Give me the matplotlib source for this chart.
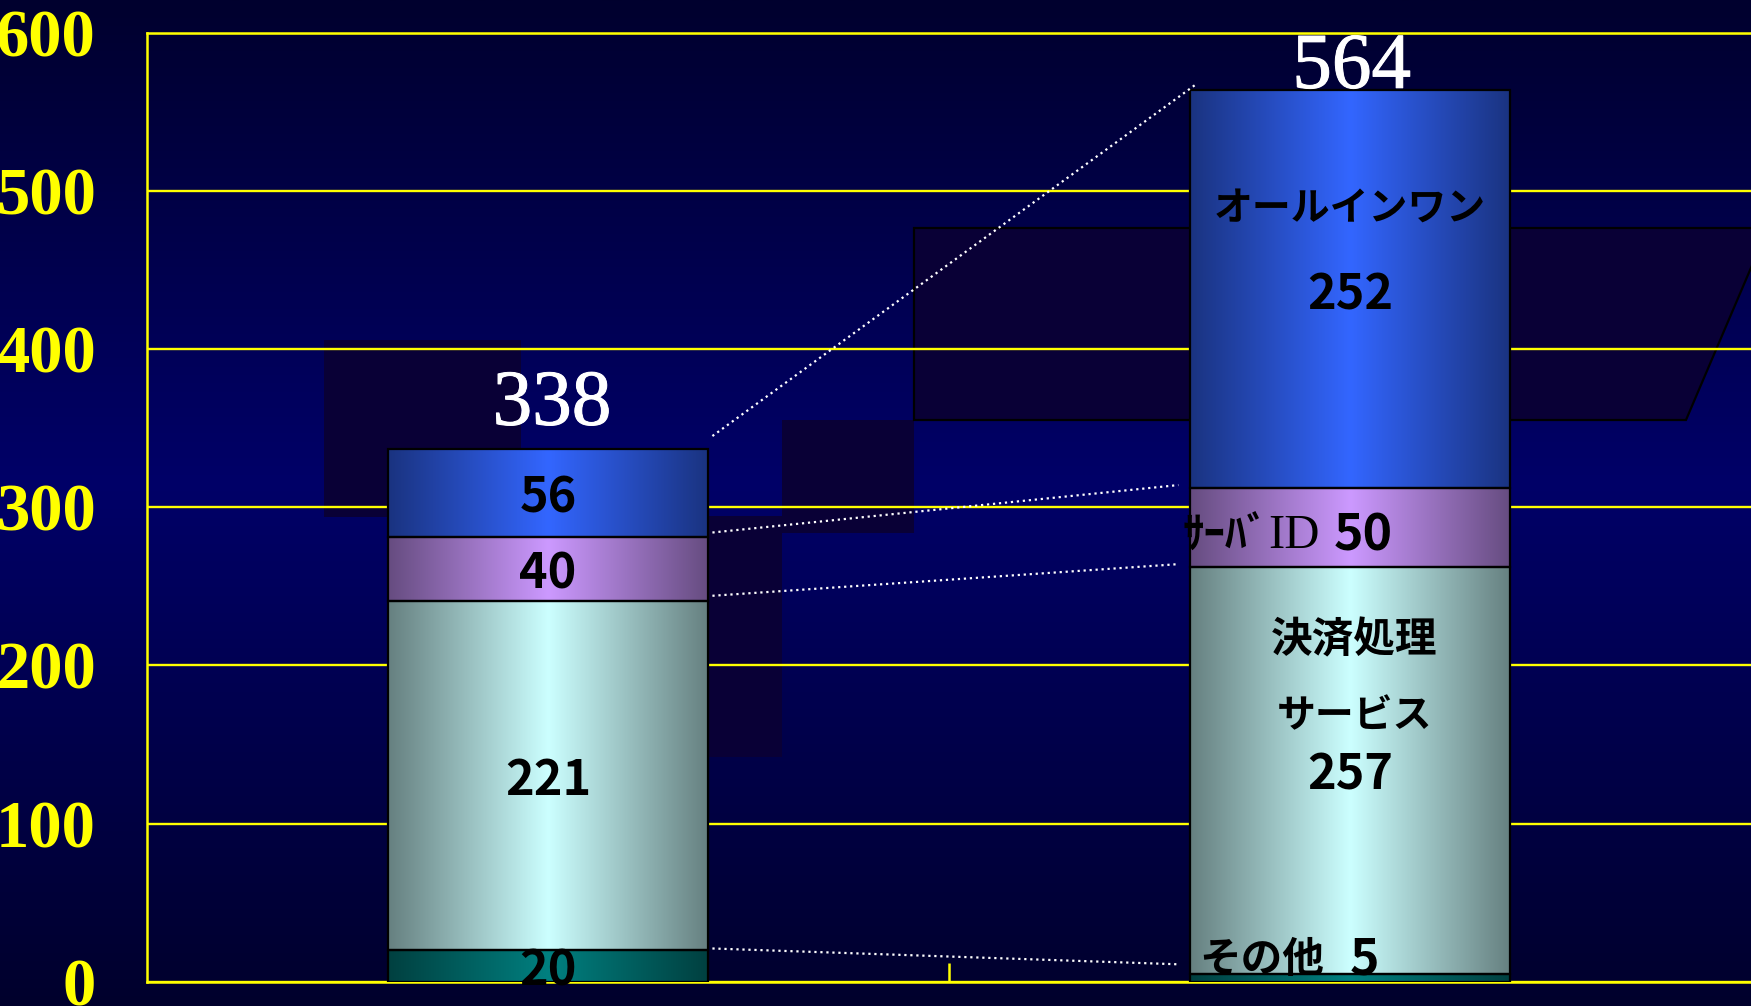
import matplotlib
matplotlib.use("Agg")
import matplotlib.pyplot as plt
import matplotlib.patheffects as pe
import numpy as np
from matplotlib.patches import Polygon
from matplotlib.colors import to_rgb

# ---------------- data ----------------
categories = [0, 1]
segment_names = ["その他", "決済処理サービス", "サーバID", "オールインワン"]
values_left = [20, 221, 40, 56]
values_right = [5, 257, 50, 252]
totals = [338, 564]
ytick_values = [0, 100, 200, 300, 400, 500, 600]
ytick_labels = ["0", "100", "200", "300", "400", "500", "600"]

# connector (dotted) lines: value heights at left / right ends
conn_left_y = [345, 284, 244, 21]
conn_right_y = [567, 314, 264, 11]
conn_right_x = [0.807, 0.786, 0.786, 0.786]
conn_left_x = 0.205

# ---------------- styles ----------------
seg_center = ["#008080", "#CCFFFF", "#CC99FF", "#3366FF"]
seg_edge = ["#004040", "#668080", "#664C80", "#1A3380"]
JP = ["Noto Sans CJK JP", "DejaVu Sans"]
YEL = "#FFFF00"
DY = -3.0  # small vertical nudge for CJK-font labels

W, H = 1751, 1006
fig = plt.figure(figsize=(W / 100, H / 100), dpi=100)

# background gradient + decorative dark shapes (pixel coordinates)
bg = fig.add_axes([0, 0, 1, 1])
bg.set_xlim(0, W)
bg.set_ylim(H, 0)
bg.axis("off")
yy = np.linspace(0, 1, 400)
top = np.array(to_rgb("#00002E"))
mid = np.array(to_rgb("#000068"))
bot = np.array(to_rgb("#00002C"))
grad = np.zeros((400, 1, 3))
for i, t in enumerate(yy):
    if t < 0.48:
        f = t / 0.48
        grad[i, 0] = top + (mid - top) * f
    else:
        f = (t - 0.48) / 0.52
        grad[i, 0] = mid + (bot - mid) * f
bg.imshow(grad, extent=[0, W, H, 0], aspect="auto", zorder=0)

dark = "#090036"
shapes = [
    [(324, 340), (521, 340), (521, 517), (324, 517)],
    [(782, 420), (914, 420), (914, 533), (782, 533)],
    [(640, 516), (782, 516), (782, 757), (640, 757)],
]
for s in shapes:
    bg.add_patch(Polygon(s, closed=True, facecolor=dark, edgecolor="none", zorder=1))
bg.add_patch(Polygon([(914, 228), (1768, 228), (1686, 420), (914, 420)], closed=True,
                     facecolor=dark, edgecolor="black", lw=1.6, zorder=1))

# ---------------- main axes ----------------
ax = fig.add_axes([147 / W, 1 - 981.7 / H, (W - 147) / W, (981.7 - 32.7) / H])
ax.patch.set_alpha(0)
ax.set_axisbelow(True)
ax.yaxis.grid(True, color=YEL, lw=1.7)
ax.xaxis.grid(False)
for sp in ["left", "bottom", "top"]:
    ax.spines[sp].set_color(YEL)
    ax.spines[sp].set_linewidth(1.8)
ax.spines["right"].set_visible(False)

ax.set_yticks(ytick_values)
ax.set_yticklabels(ytick_labels, fontsize=48, fontfamily="Liberation Serif",
                   fontweight="bold", color=YEL)
ax.tick_params(axis="y", length=0, pad=37)
ax.set_xticks([0.5])
ax.set_xticklabels([])
ax.tick_params(axis="x", direction="in", length=14, width=1.8, color=YEL)

t = np.linspace(0, 1, 256)
w = 1 - np.abs(2 * t - 1)

bar_width = 0.4
for xi, vals in zip(categories, [values_left, values_right]):
    bottom = 0
    for k, v in enumerate(vals):
        bars = ax.bar(xi, v, bar_width, bottom=bottom, facecolor="none",
                      edgecolor="black", lw=1.6, zorder=4)
        patch = bars[0]
        c0 = np.array(to_rgb(seg_edge[k]))
        c1 = np.array(to_rgb(seg_center[k]))
        img = c0[None, :] + (c1 - c0)[None, :] * w[:, None]
        img = img[None, :, :]
        im = ax.imshow(img, extent=[xi - bar_width / 2, xi + bar_width / 2, bottom, bottom + v],
                       aspect="auto", zorder=3, interpolation="bilinear")
        im.set_clip_path(patch)
        bottom += v

# dotted connectors
for yl, yr, xr in zip(conn_left_y, conn_right_y, conn_right_x):
    ax.plot([conn_left_x, xr], [yl, yr], color="white", lw=1.6,
            ls=(0, (1, 1.7)), zorder=6)

# total labels
total_label_y = [364, 577]
total_label_x = [0.005, 1.002]
for x, y, tot in zip(total_label_x, total_label_y, totals):
    ax.text(x, y, str(tot), fontsize=57, fontfamily="Liberation Serif", color="white",
            ha="center", va="center", zorder=7, clip_on=False,
            path_effects=[pe.withStroke(linewidth=0.7, foreground="white")])

# left bar labels (segment centres)
bottom = 0
for v in values_left:
    ax.text(0, bottom + v / 2 + DY, str(v), fontsize=35, family=JP, fontweight="bold",
            color="black", ha="center", va="center", zorder=7, clip_on=False)
    bottom += v

# right bar labels
ax.text(1, 492 + DY, "オールインワン", fontsize=28, family=JP, fontweight="bold",
        ha="center", va="center", zorder=7)
ax.text(1, 438 + DY - 1, str(values_right[3]), fontsize=35, family=JP, fontweight="bold",
        ha="center", va="center", zorder=7)
ax.text(1.005, 219 + DY, "決済処理", fontsize=30, family=JP, fontweight="bold",
        ha="center", va="center", zorder=7)
ax.text(1.005, 171 + DY, "サービス", fontsize=28, family=JP, fontweight="bold",
        ha="center", va="center", zorder=7)
ax.text(1, 133.5 + DY, str(values_right[1]), fontsize=35, family=JP, fontweight="bold",
        ha="center", va="center", zorder=7)


def draw_runs(x, y, runs):
    prev = None
    for text, kw, gap in runs:
        if prev is None:
            prev = ax.text(x, y, text, ha="left", va="center", zorder=7, **kw)
        else:
            prev = ax.annotate(text, xy=(1, 0.5), xycoords=prev, xytext=(gap, 0),
                               textcoords="offset points", ha="left", va="center",
                               zorder=7, **kw)


draw_runs(0.791, 285 + DY, [
    ("ｻｰﾊﾞ", dict(fontsize=31, family=JP, fontweight="bold"), 0),
    ("ID", dict(fontsize=35, family=["Liberation Serif"]), 0),
    (str(values_right[2]), dict(fontsize=36, family=JP, fontweight="bold"), 10),
])
draw_runs(0.8125, 17 + DY, [
    ("その他", dict(fontsize=30, family=JP, fontweight="bold"), 0),
    (str(values_right[0]), dict(fontsize=36, family=JP, fontweight="bold"), 18),
])

ax.set_xlim(-0.5, 1.5)
ax.set_ylim(0, 600)

fig.savefig("out.png", dpi=100)
